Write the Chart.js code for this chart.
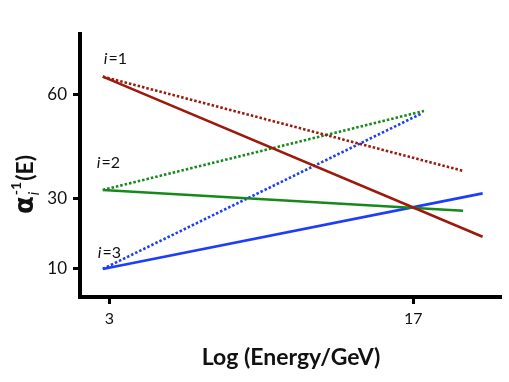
<!DOCTYPE html>
<html>
<head>
<meta charset="utf-8">
<script src="https://cdn.jsdelivr.net/npm/chart.js@4"></script>
<style>
  html, body { margin: 0; padding: 0; background: #fff; }
  #wrap { width: 509px; height: 382px; }
</style>
</head>
<body>
<div id="wrap"><canvas id="couplingChart" width="509" height="382"></canvas></div>
<script>
// couplings, start / end of each line (x = log energy)
const xStart = 2.7;
const xTicks = [3, 17];
const yTicks = [10, 30, 60];
const labels = ['i=1', 'i=2', 'i=3'];

const startVals = [65.3, 32.6, 9.8];          // i=1, i=2, i=3
const solidEndX = [20.2, 19.3, 20.2];
const solidEndY = [19.1, 26.6, 31.6];
const dottedEndX = [19.3, 17.5, 17.4];
const dottedEndY = [38.1, 55.4, 54.7];

const colors = ['#9b1a0c', '#17891a', '#1c3dfc'];

const datasets = [];
for (let i = 0; i < 3; i++) {
    datasets.push({
        label: labels[i] + ' solid',
        data: [{ x: xStart, y: startVals[i] }, { x: solidEndX[i], y: solidEndY[i] }],
        borderColor: colors[i],
        borderWidth: 2.6,
        showLine: true,
        pointRadius: 0
    });
    datasets.push({
        label: labels[i] + ' dotted',
        data: [{ x: xStart, y: startVals[i] }, { x: dottedEndX[i], y: dottedEndY[i] }],
        borderColor: colors[i],
        borderWidth: 2.6,
        borderDash: [2.5, 2],
        showLine: true,
        pointRadius: 0
    });
}

// text labels and axis titles with sub/superscripts
const annotations = {
    id: 'annotations',
    afterDraw(chart) {
        const { ctx, scales: { x, y } } = chart;
        ctx.save();
        ctx.fillStyle = '#111';
        ctx.textBaseline = 'alphabetic';
        const offs = [[1, -13], [-6, -22], [-5, -11]];
        for (let i = 0; i < 3; i++) {
            let px = x.getPixelForValue(xStart) + offs[i][0];
            const py = y.getPixelForValue(startVals[i]) + offs[i][1];
            ctx.font = 'italic 16px Lato';
            ctx.fillText('i', px, py);
            px += ctx.measureText('i').width + 1;
            ctx.font = '16px Lato';
            ctx.fillText(labels[i].slice(1), px, py);
        }

        // x title
        ctx.font = 'bold 23px Lato';
        ctx.textAlign = 'center';
        ctx.fillText('Log (Energy/GeV)', 291, 365);

        // y title, rotated
        ctx.translate(33, 214);
        ctx.rotate(-Math.PI / 2);
        ctx.textAlign = 'left';
        let cx = 0;
        ctx.font = 'bold 26px "DejaVu Sans"';
        ctx.fillText('\u03b1', cx, 0);
        cx += ctx.measureText('\u03b1').width + 1;
        ctx.font = 'italic 15px Lato';
        ctx.fillText('i', cx, 6);
        ctx.font = 'bold 14px Lato';
        ctx.fillText('-1', cx, -12);
        cx += ctx.measureText('-1').width + 1;
        ctx.font = 'bold 23px Lato';
        ctx.fillText('(E)', cx, 0);
        ctx.restore();
    }
};

const ctx = document.getElementById('couplingChart').getContext('2d');
new Chart(ctx, {
    type: 'scatter',
    data: { datasets: datasets },
    options: {
        responsive: false,
        animation: false,
        layout: { padding: { top: 34, right: 9, left: 0, bottom: 0 } },
        plugins: { legend: { display: false }, tooltip: { enabled: false } },
        scales: {
            x: {
                type: 'linear',
                min: 1.65,
                max: 21.0,
                afterBuildTicks: s => { s.ticks = xTicks.map(v => ({ value: v })); },
                afterFit: s => { s.height = 85; },
                ticks: { color: '#111', padding: 5, font: { family: 'Lato', size: 16 } },
                grid: { drawOnChartArea: false, drawTicks: true, tickLength: 7, color: '#000', lineWidth: 3 },
                border: { color: '#000', width: 4 }
            },
            y: {
                min: 1.7,
                max: 77.6,
                afterBuildTicks: s => { s.ticks = yTicks.map(v => ({ value: v })); },
                afterFit: s => { s.width = 80; },
                ticks: { color: '#111', padding: 6, font: { family: 'Lato', size: 17 } },
                grid: { drawOnChartArea: false, drawTicks: true, tickLength: 7, color: '#000', lineWidth: 3 },
                border: { color: '#000', width: 4 }
            }
        }
    },
    plugins: [annotations]
});
</script>
</body>
</html>
